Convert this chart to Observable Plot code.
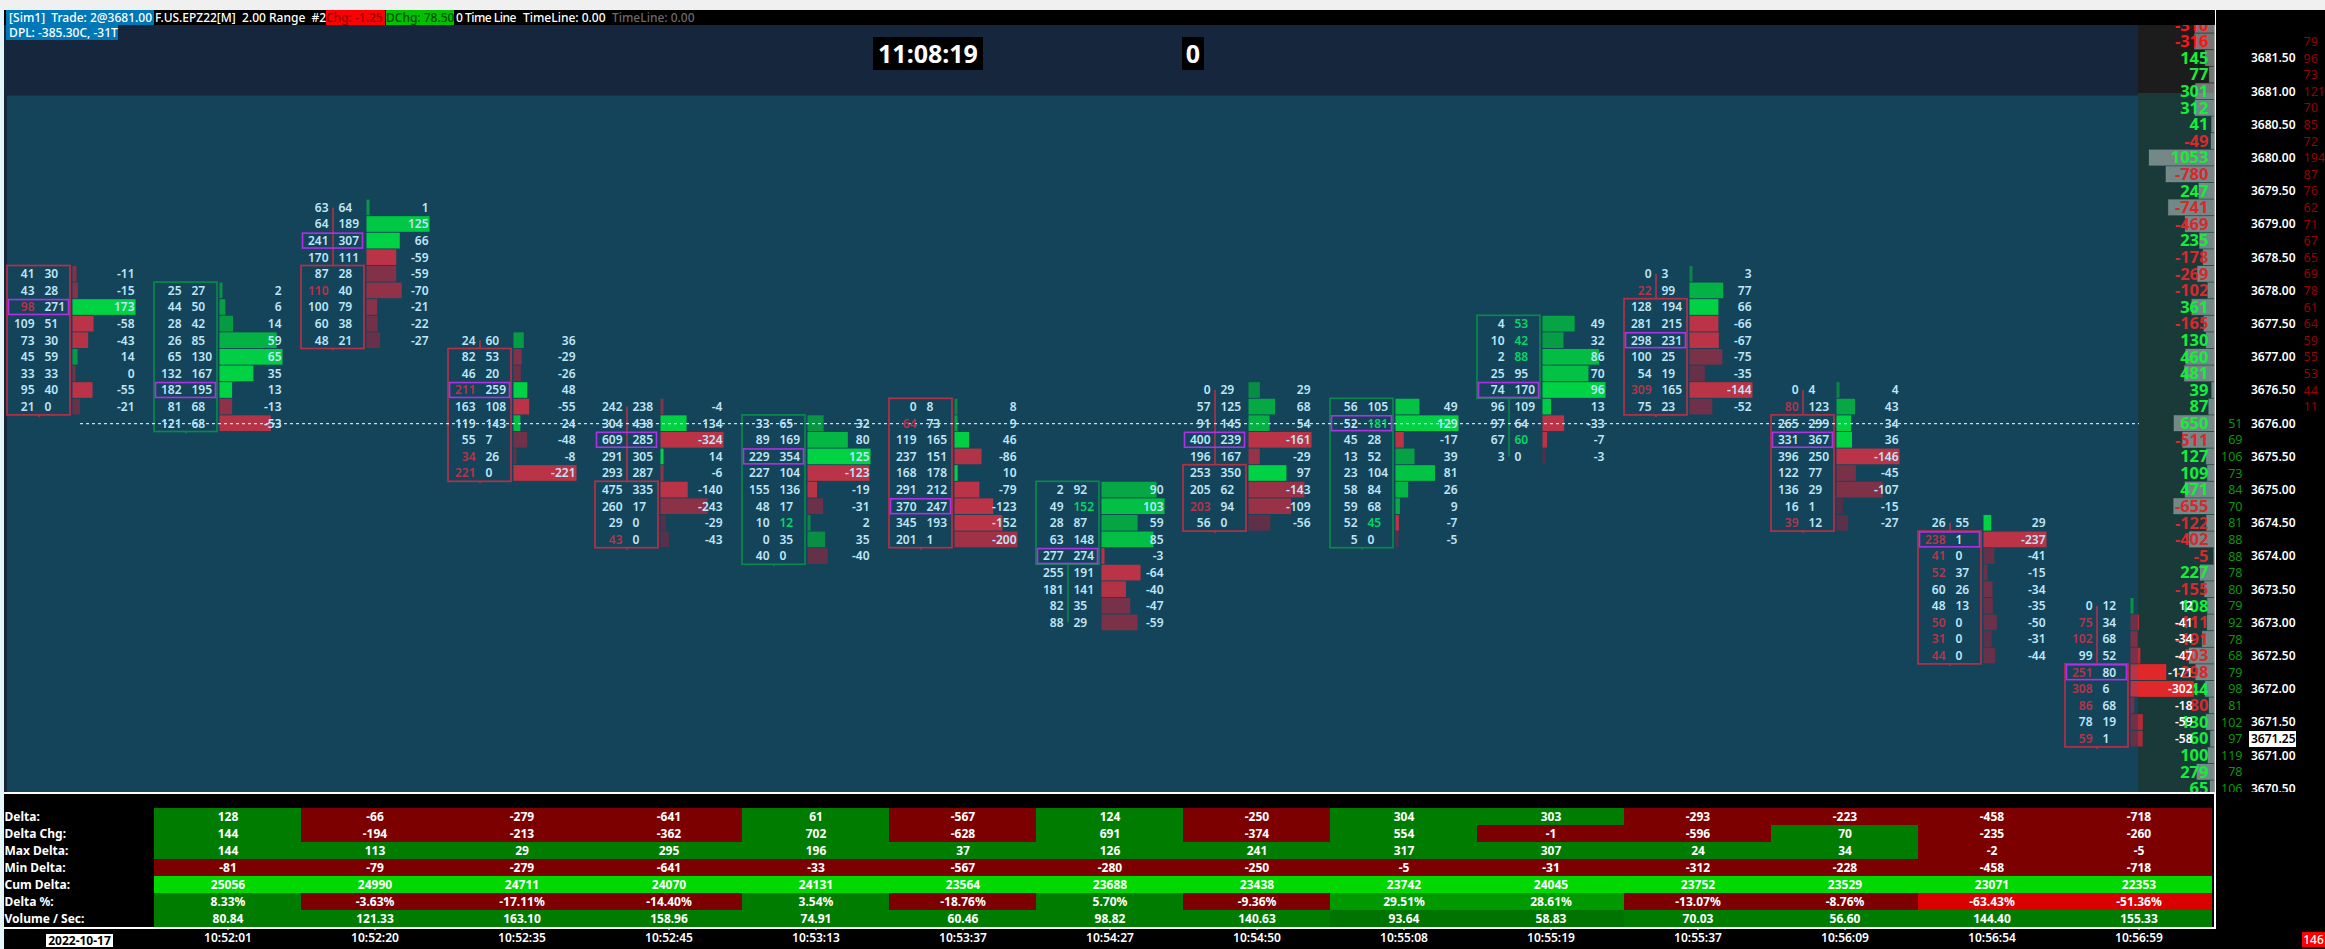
<!DOCTYPE html>
<html><head><meta charset="utf-8">
<script src="https://cdn.jsdelivr.net/npm/d3@7"></script>
<script src="https://cdn.jsdelivr.net/npm/@observablehq/plot@0.6"></script>
<style>
html,body{margin:0;padding:0;background:#000;width:2325px;height:949px;overflow:hidden;font-family:"Noto Sans",sans-serif}
#wrap{position:relative;width:2325px;height:949px;overflow:hidden}
#main{position:absolute;left:0;top:0}
#bottom{position:absolute;left:0;top:792px}
.o{position:absolute;white-space:pre;font-size:12px;line-height:15px;font-weight:500;color:#fff}
svg{display:block}
</style></head><body><div id="wrap"><div id="main"></div><div id="bottom"></div></div>
<script>
// ---- footprint columns ----
const topPrices=[3678.25,3678,3679.25,3677.25,3676.25,3676,3676.25,3675,3676.5,3676.25,3677.5,3678.25,3676.5,3674.5,3673.25];
const bids=[
[41,43,98,109,73,45,33,95,21],
[25,44,28,26,65,132,182,81,121],
[63,64,241,170,87,110,100,60,48],
[24,82,46,211,163,119,55,34,221],
[242,304,609,291,293,475,260,29,43],
[33,89,229,227,155,48,10,0,40],
[0,64,119,237,168,291,370,345,201],
[2,49,28,63,277,255,181,82,88],
[0,57,91,400,196,253,205,203,56],
[56,52,45,13,23,58,59,52,5],
[4,10,2,25,74,96,97,67,3],
[0,22,128,281,298,100,54,309,75],
[0,80,265,331,396,122,136,16,39],
[26,238,41,52,60,48,50,31,44],
[0,75,102,99,251,308,86,78,59]];
const asks=[
[30,28,271,51,30,59,33,40,0],
[27,50,42,85,130,167,195,68,68],
[64,189,307,111,28,40,79,38,21],
[60,53,20,259,108,143,7,26,0],
[238,438,285,305,287,335,17,0,0],
[65,169,354,104,136,17,12,35,0],
[8,73,165,151,178,212,247,193,1],
[92,152,87,148,274,191,141,35,29],
[29,125,145,239,167,350,62,94,0],
[105,181,28,52,104,84,68,45,0],
[53,42,88,95,170,109,64,60,0],
[3,99,194,215,231,25,19,165,23],
[4,123,299,367,250,77,29,1,12],
[55,1,0,37,26,13,0,0,0],
[12,34,68,52,80,6,68,19,1]];
const deltas=[
[-11,-15,173,-58,-43,14,0,-55,-21],
[2,6,14,59,65,35,13,-13,-53],
[1,125,66,-59,-59,-70,-21,-22,-27],
[36,-29,-26,48,-55,24,-48,-8,-221],
[-4,134,-324,14,-6,-140,-243,-29,-43],
[32,80,125,-123,-19,-31,2,35,-40],
[8,9,46,-86,10,-79,-123,-152,-200],
[90,103,59,85,-3,-64,-40,-47,-59],
[29,68,54,-161,-29,97,-143,-109,-56],
[49,129,-17,39,81,26,9,-7,-5],
[49,32,86,70,96,13,-33,-7,-3],
[3,77,66,-66,-67,-75,-35,-144,-52],
[4,43,34,36,-146,-45,-107,-15,-27],
[29,-237,-41,-15,-34,-35,-50,-31,-44],
[12,-41,-34,-47,-171,-302,-18,-59,-58]];
const pocRow=[2,6,2,3,2,2,6,4,3,1,4,4,3,1,4];
const bodyFirst=[0,0,4,1,5,0,0,0,5,0,0,2,2,1,4];
const bodyLast=[8,8,8,8,8,8,8,4,8,8,4,8,8,8,8];
const bodyUp=[false,true,false,false,false,true,false,true,false,true,true,false,false,false,false];

// ---- volume profile and the price ladder ----
const profileTop=3682;
const profile=[-310,-316,145,77,301,312,41,-49,1053,-780,247,-741,-469,235,-178,-269,-102,361,-165,130,460,481,39,87,650,-511,127,109,471,-655,-122,-402,-5,227,-155,108,-111,-191,-403,-298,144,-80,130,60,100,279,65];
const redLadderTop=3681.75;
const redLadder=[79,96,73,121,70,85,72,194,87,76,62,71,67,65,69,78,61,64,59,55,53,44,11];
const greenLadderTop=3676;
const greenLadder=[51,69,106,73,84,70,81,88,88,78,80,79,92,78,68,79,98,81,102,97,119,78,106];
const priceLabels=["3681.50","3681.00","3680.50","3680.00","3679.50","3679.00","3678.50","3678.00","3677.50","3677.00","3676.50","3676.00","3675.50","3675.00","3674.50","3674.00","3673.50","3673.00","3672.50","3672.00","3671.50","3671.00","3670.50"];
const lastPrice=3671.25, refLine=3676;

// ---- study table ----
const rowNames=["Delta:","Delta Chg:","Max Delta:","Min Delta:","Cum Delta:","Delta %:","Volume / Sec:"];
const times=["10:52:01","10:52:20","10:52:35","10:52:45","10:53:13","10:53:37","10:54:27","10:54:50","10:55:08","10:55:19","10:55:37","10:56:09","10:56:54","10:56:59"];
const rowDelta=[128,-66,-279,-641,61,-567,124,-250,304,303,-293,-223,-458,-718];
const rowChg=[144,-194,-213,-362,702,-628,691,-374,554,-1,-596,70,-235,-260];
const rowMax=[144,113,29,295,196,37,126,241,317,307,24,34,-2,-5];
const rowMin=[-81,-79,-279,-641,-33,-567,-280,-250,-5,-31,-312,-228,-458,-718];
const rowCum=[25056,24990,24711,24070,24131,23564,23688,23438,23742,24045,23752,23529,23071,22353];
const rowPct=[8.33,-3.63,-17.11,-14.40,3.54,-18.76,5.70,-9.36,29.51,28.61,-13.07,-8.76,-63.43,-51.36];
const rowVol=[80.84,121.33,163.10,158.96,74.91,60.46,98.82,140.63,93.64,58.83,70.03,56.60,144.40,155.33];

// ---- layout of the page, in pixels ----
const W=2325,H=949;
const colLeft=7,colStep=147,tick=0.25,pxPerPrice=66.4,priceY0=58,priceRef=3681.5;
const xScaleDomain=[-colLeft/colStep,(W-colLeft)/colStep];
const yScaleDomain=[priceRef+priceY0/pxPerPrice,priceRef-(H-priceY0)/pxPerPrice];
const px=v=>(v-colLeft)/colStep;           // page x -> x scale value
const py=v=>priceRef-(v-priceY0)/pxPerPrice; // page y -> y scale value
const cx=v=>v/colStep;                     // width inside a column -> x scale value
const BODY_W=63,BID_R=27,ASK_L=37,BAR_L=65.5,BAR_W=63,DELTA_R=127,WICK=31.5,PANEL_L=2138,PANEL_R=2214;

const rows=[];
bids.forEach((col,c)=>{
  const maxB=d3.max(bids[c]),maxA=d3.max(asks[c]),maxD=d3.max(deltas[c],Math.abs);
  col.forEach((b,r)=>{
    const a=asks[c][r],d=deltas[c][r];
    const up=d>0;
    const t=up?a/maxA:b/maxB;
    rows.push({c,r,price:topPrices[c]-r*tick,bid:b,ask:a,delta:d,up,t,maxD,
      bidRed:r>0&&b>=3*asks[c][r-1]&&b>0,
      askGreen:r<8&&a>=3*bids[c][r+1]&&a>0});
  });
});
const greenRamp=d3.interpolateRgb("#0a8644","#00d244");
const redRamp=d3.interpolateRgb("#4f304a","#bb3346");
const ramp=t=>Math.min(1,Math.pow(t/0.7,1.15));
const barFill=d=>d.up?greenRamp(ramp(d.t)):redRamp(ramp(d.t));
const bodies=topPrices.map((p,c)=>({c,top:p-bodyFirst[c]*tick,bot:p-bodyLast[c]*tick,up:bodyUp[c]}));
// wicks stay outside the candle body
const wicks=[];
topPrices.forEach((p,c)=>{
  const last=p-8*tick, bTop=p-bodyFirst[c]*tick+0.125, bBot=p-bodyLast[c]*tick-0.125;
  if(bodyFirst[c]>0) wicks.push({c,top:p,bot:bTop,up:bodyUp[c]});
  if(bodyLast[c]<8) wicks.push({c,top:bBot,bot:last,up:bodyUp[c]});
  else wicks.push({c,top:bBot,bot:bBot-0.03,up:bodyUp[c]});
});
const poc=pocRow.map((r,c)=>({c,price:topPrices[c]-r*tick}));
const boxColor=d=>d.up?"#08884a":"#b52f48";
const profileRows=profile.map((v,i)=>({v,price:profileTop-i*tick}));
const txt="#bfe6f7";
const F={fontFamily:"'Noto Sans'",fontSize:12,fontWeight:600};
const one=[{}];
const panel=(x1,x2,y1,y2,fill)=>Plot.rect(one,{x1:px(x1),x2:px(x2),y1:py(y1),y2:py(y2),fill});

const chart=Plot.plot({
  width:W,height:H,margin:0,
  x:{domain:xScaleDomain,range:[0,W],axis:null},
  y:{domain:yScaleDomain,range:[0,H],axis:null},
  style:{background:"#000"},
  marks:[
    panel(4,2138,25,792,"#16263d"),
    panel(7,2138,95.5,792,"#14445a"),
    panel(2138,2214,25,93,"#1c1c1c"),
    panel(2138,2214,93,792,"#1a3a3a"),
    // volume profile
    Plot.rect(profileRows,{x1:d=>px(PANEL_R-Math.abs(d.v)*0.0617),x2:px(PANEL_R),y1:d=>d.price+0.118,y2:d=>d.price-0.118,fill:"#fff",fillOpacity:0.4,stroke:"#9cc",strokeOpacity:.15}),
    Plot.text(profileRows,{x:px(2208),y:"price",text:d=>String(d.v),textAnchor:"end",fontFamily:"'Noto Sans'",fontSize:16.5,fontWeight:700,
      fill:d=>d.v>=0?"#14ee3a":(d.price>3681.6?"#ff1414":"#d9282e")}),
    // delta bars
    Plot.rect(rows,{x1:d=>d.c+cx(BAR_L),x2:d=>d.c+cx(BAR_L)+cx(Math.max(Math.abs(d.delta)/d.maxD*BAR_W,3)),y1:d=>d.price+0.118,y2:d=>d.price-0.118,fill:barFill}),
    Plot.rect(rows.filter(d=>d.c+cx(BAR_L)+cx(Math.abs(d.delta)/d.maxD*BAR_W)>px(PANEL_L)),{x1:px(PANEL_L),x2:d=>d.c+cx(BAR_L)+cx(Math.abs(d.delta)/d.maxD*BAR_W),y1:d=>d.price+0.118,y2:d=>d.price-0.118,fill:"#e0282a",fillOpacity:d=>Math.min(1,.35+d.t)}),
    // candle outlines
    Plot.ruleX(wicks,{x:d=>d.c+cx(WICK),y1:"top",y2:"bot",stroke:boxColor,strokeWidth:1.6}),
    Plot.rect(bodies,{x1:d=>d.c,x2:d=>d.c+cx(BODY_W),y1:d=>d.top+0.125,y2:d=>d.bot-0.125,stroke:boxColor,strokeWidth:1.7,fill:"none"}),
    Plot.rect(poc,{x1:d=>d.c+cx(1.5),x2:d=>d.c+cx(BODY_W-1.5),y1:d=>d.price+0.112,y2:d=>d.price-0.112,stroke:"#b030e8",strokeWidth:1.6,fill:"none"}),
    // reference line
    Plot.ruleY([refLine],{x1:px(80),x2:px(2139),stroke:"#fff",strokeWidth:1,strokeDasharray:"3,3"}),
    // footprint numbers
    Plot.text(rows,{x:d=>d.c+cx(BID_R),y:"price",text:"bid",textAnchor:"end",fill:d=>d.bidRed?"#b93349":txt,...F}),
    Plot.text(rows,{x:d=>d.c+cx(ASK_L),y:"price",text:"ask",textAnchor:"start",fill:d=>d.askGreen?"#00d865":txt,...F}),
    Plot.text(rows,{x:d=>d.c+cx(DELTA_R),y:"price",text:"delta",textAnchor:"end",fill:d=>d.c===14?"#fff":txt,...F}),
    // right ladder
    panel(2215,W,0,H,"#000"),
    panel(2214.4,2216,0,H,"#fff"),
    Plot.text(priceLabels,{x:px(2295),y:d=>+d,text:d=>d,textAnchor:"end",fill:"#fff",...F}),
    panel(2249,2296,731,747,"#fff"),
    Plot.text([lastPrice],{x:px(2295),y:d=>d,text:d=>d.toFixed(2),textAnchor:"end",fill:"#000",...F}),
    Plot.text(redLadder,{x:px(2303),y:(d,i)=>redLadderTop-i*tick,text:d=>d,textAnchor:"start",fill:"#960000",fontFamily:"'Liberation Sans Narrow','Noto Sans'",fontSize:12.5}),
    Plot.text(greenLadder,{x:px(2242),y:(d,i)=>greenLadderTop-i*tick,text:d=>d,textAnchor:"end",fill:"#0a960a",fontFamily:"'Liberation Sans Narrow','Noto Sans'",fontSize:12.5})
  ]
});
document.getElementById("main").appendChild(chart);

// ---- the study table as its own plot ----
const tableSeries=[rowDelta,rowChg,rowMax,rowMin,rowCum,rowPct,rowVol];
const cells=[];
tableSeries.forEach((s,r)=>s.forEach((v,i)=>cells.push({row:rowNames[r],time:times[i],r,v})));
const cellFill=d=>{
  if(d.r===4) return "#00d800";
  if(d.r===5) return d.v<=-50?"#d80000":d.v>=25?"#009a00":d.v<0?"#7d0000":"#007d00";
  if(d.r===6) return (d.v===93.64||d.v===58.83)?"#007400":"#007d00";
  return d.v<0?"#7d0000":"#007d00";
};
const cellText=d=>d.r===5?d.v.toFixed(2)+"%":d.r===6?d.v.toFixed(2):String(d.v);
const table=Plot.plot({
  width:W,height:157,marginTop:16,marginBottom:22,marginLeft:154,marginRight:W-2212,
  style:{background:"#000",color:"#fff",fontFamily:"'Noto Sans'",fontSize:"12px",fontWeight:600},
  x:{type:"band",domain:times,padding:0,label:null},
  y:{type:"band",domain:rowNames,padding:0,axis:null},
  marks:[
    Plot.cell(cells,{x:"time",y:"row",fill:cellFill,inset:0}),
    Plot.text(cells,{x:"time",y:"row",text:cellText,fill:"#fff",fontFamily:"'Noto Sans'",fontSize:12,fontWeight:700}),
    Plot.text(rowNames,{y:d=>d,text:d=>d,frameAnchor:"left",dx:-150,textAnchor:"start",fill:"#fff",fontFamily:"'Noto Sans'",fontSize:12,fontWeight:700}),
    Plot.axisX({anchor:"bottom",tickSize:3,tickPadding:3,stroke:"#fff",fill:"#fff",label:null,fontWeight:600})
  ]
});
document.getElementById("bottom").appendChild(table);

// ---- overlays: header, clock, frame lines ----
const overlays=[
 {x:0,y:0,w:W,h:10,bg:"#f0f0f0"},
 {x:4,y:10,w:2211,h:15,bg:"#000"},
 {x:2216,y:10,w:109,h:15,bg:"#000"},
 {x:6,y:10,w:148,h:15,bg:"#0078b8",t:" [Sim1]  Trade: 2@3681.00"},
 {x:155,y:10,w:170,h:15,t:"F.US.EPZ22[M]  2.00 Range  #2"},
 {x:326,y:10,w:59,h:15,bg:"#ff0000",c:"#8a0000",t:"Chg: -1.25"},
 {x:386,y:10,w:68,h:15,bg:"#00c000",c:"#004d00",t:"DChg: 78.50"},
 {x:456,y:10,w:62,h:15,t:"0 Time Line",ls:-0.5},
 {x:523,y:10,w:88,h:15,t:"TimeLine: 0.00"},
 {x:612,y:10,w:90,h:15,c:"#6a6a6a",t:"TimeLine: 0.00"},
 {x:6,y:25,w:112,h:15,bg:"#0078b8",t:" DPL: -385.30C, -31T"},
 {x:873,y:37,w:110,h:33,bg:"#000",t:"11:08:19",fs:25,fw:700,center:1},
 {x:1182,y:37,w:22,h:33,bg:"#000",t:"0",fs:25,fw:700,center:1},
 {x:0,y:10,w:4,h:939,bg:"#e4f6fa"},
 {x:4,y:792,w:2212,h:1.5,bg:"#fff"},
 {x:4,y:927,w:2212,h:1.5,bg:"#fff"},
 {x:2214.4,y:792,w:1.6,h:136,bg:"#fff"},
 {x:46,y:934,w:67,h:13,bg:"#fff",c:"#000",t:"2022-10-17",center:1,fw:700},
 {x:2302,y:932,w:23,h:15,bg:"#ff0000",t:"146",center:1}
];
const wrap=document.getElementById("wrap");
overlays.forEach(o=>{
  const e=document.createElement("div");e.className="o";
  e.style.cssText=`left:${o.x}px;top:${o.y}px;width:${o.w}px;height:${o.h}px;background:${o.bg||"transparent"};color:${o.c||"#fff"};line-height:${o.h}px;`
   +(o.fs?`font-size:${o.fs}px;`:"")+(o.fw?`font-weight:${o.fw};`:"")+(o.center?"text-align:center;":"")+(o.ls?`letter-spacing:${o.ls}px;`:"");
  if(o.t)e.textContent=o.t;
  wrap.appendChild(e);
});
</script></body></html>
